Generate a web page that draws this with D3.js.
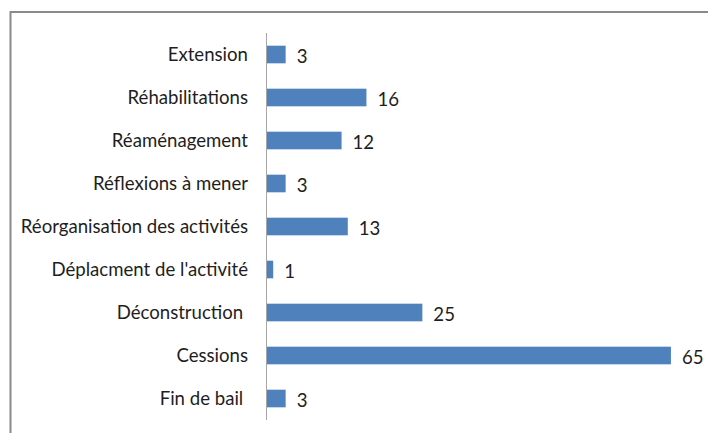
<!DOCTYPE html>
<html>
<head>
<meta charset="utf-8">
<script src="https://cdn.jsdelivr.net/npm/d3@7"></script>
<style>
  body { margin: 0; background: #fff; }
  text { font-family: Lato, "Open Sans", sans-serif; fill: #1e1e1e; white-space: pre; }
</style>
</head>
<body>
<div id="chart"></div>
<script>
// categories top to bottom, as in the picture
const categories = ["Extension", "Réhabilitations", "Réaménagement", "Réflexions à mener",
  "Réorganisation des activités", "Déplacment de l'activité", "Déconstruction ", "Cessions", "Fin de bail "];
const values = [3, 16, 12, 3, 13, 1, 25, 65, 3];

const width = 708, height = 433;

const svg = d3.select("#chart")
  .append("svg")
  .attr("width", width)
  .attr("height", height);

// outer frame (runs past the window on the right and bottom)
svg.append("rect")
  .attr("x", 10.5).attr("y", 12)
  .attr("width", 760).attr("height", 500)
  .attr("fill", "none")
  .attr("stroke", "#8a8a8a")
  .attr("stroke-width", 2);

const x = d3.scaleLinear()
  .domain([0, 70])
  .range([267, 702]);

const y = d3.scaleBand()
  .domain(categories)
  .range([33, 420])
  .paddingInner(0.59)
  .paddingOuter(0.295);

svg.append("g")
  .selectAll("rect")
  .data(values)
  .join("rect")
  .attr("x", x(0))
  .attr("y", (d, i) => y(categories[i]))
  .attr("width", d => x(d) - x(0))
  .attr("height", y.bandwidth())
  .attr("fill", "#4f81bd");

// category axis, no ticks
svg.append("line")
  .attr("x1", x(0) - 0.5).attr("x2", x(0) - 0.5)
  .attr("y1", 33).attr("y2", 420)
  .attr("stroke", "#a6a6a6")
  .attr("stroke-width", 1);

svg.append("g")
  .selectAll("text")
  .data(categories)
  .join("text")
  .attr("x", 248)
  .attr("y", d => y(d) + y.bandwidth() / 2)
  .attr("dy", "0.35em")
  .attr("text-anchor", "end")
  .style("font-size", "18.6px")
  .text(d => d);

svg.append("g")
  .selectAll("text")
  .data(values)
  .join("text")
  .attr("x", d => x(d) + 11)
  .attr("y", (d, i) => y(categories[i]) + y.bandwidth() / 2 + 2)
  .attr("dy", "0.35em")
  .style("font-size", "18.6px")
  .text(d => d);
</script>
</body>
</html>
